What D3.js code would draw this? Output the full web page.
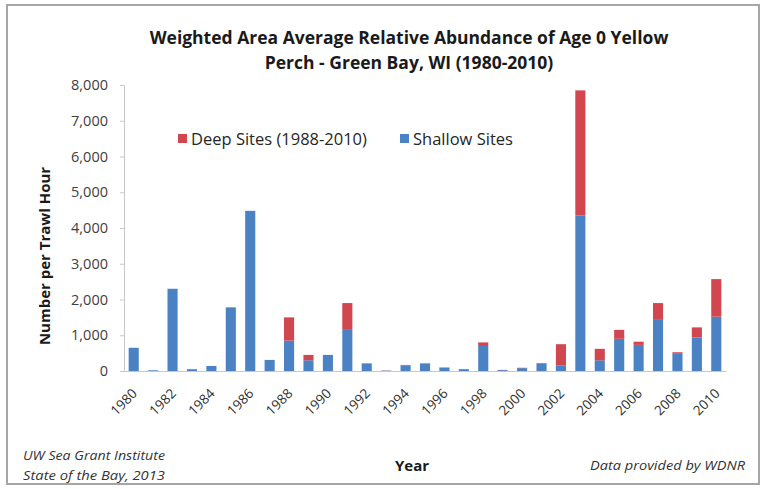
<!DOCTYPE html>
<html>
<head>
<meta charset="utf-8">
<script src="https://cdn.jsdelivr.net/npm/d3@7"></script>
<style>
  html, body { margin: 0; padding: 0; background: #fff; }
  svg { display: block; }
</style>
</head>
<body>
<script>
const years = d3.range(1980, 2011);
const shallowValues = [650, 20, 2300, 50, 140, 1780, 4480, 310, 850, 300, 450, 1150, 200, 10, 160, 200, 90, 50, 700, 25, 80, 200, 150, 4350, 300, 900, 730, 1430, 500, 940, 1520];
const deepValues    = [0, 0, 0, 0, 0, 0, 0, 0, 650, 150, 0, 750, 15, 5, 10, 15, 10, 5, 100, 5, 10, 20, 600, 3500, 320, 250, 90, 470, 25, 280, 1050];
const yTicks = [0, 1000, 2000, 3000, 4000, 5000, 6000, 7000, 8000];
const xTickYears = d3.range(1980, 2011, 2);
const seriesNames = ["Deep Sites (1988-2010)", "Shallow Sites"];
const titleLines = ["Weighted Area Average Relative Abundance of Age 0 Yellow", "Perch - Green Bay, WI (1980-2010)"];

const W = 766, H = 489;
const margin = {left: 124, right: 40, top: 85, bottom: 118};
const colors = {deep: "#d2464f", shallow: "#4a82c4"};

const svg = d3.select("body").append("svg").attr("width", W).attr("height", H);

// frame
svg.append("rect").attr("x", 7).attr("y", 5).attr("width", 752).attr("height", 479)
  .attr("fill", "#fff").attr("stroke", "#a6a6a6").attr("stroke-width", 2);

const x = d3.scaleBand().domain(years).range([margin.left, W - margin.right]).paddingInner(0.48).paddingOuter(0.24);
const y = d3.scaleLinear().domain([0, 8000]).range([H - margin.bottom, margin.top]);

const data = years.map((yr, i) => ({year: yr, shallow: shallowValues[i], deep: deepValues[i]}));
const stack = d3.stack().keys(["shallow", "deep"])(data);

const g = svg.append("g");
stack.forEach(layer => {
  g.append("g").attr("fill", colors[layer.key])
    .selectAll("rect").data(layer).join("rect")
    .attr("x", d => x(d.data.year))
    .attr("width", x.bandwidth())
    .attr("y", d => y(d[1]))
    .attr("height", d => Math.max(0, y(d[0]) - y(d[1])));
});

// y axis
const yAxis = d3.axisLeft(y).tickValues(yTicks).tickFormat(d3.format(",")).tickSize(4).tickPadding(12);
const ya = svg.append("g").attr("transform", `translate(${margin.left},0)`).call(yAxis);
ya.select(".domain").attr("stroke", "#c8c8c8");
ya.selectAll(".tick line").attr("stroke", "#c8c8c8");
ya.selectAll("text").attr("font-family", "Open Sans, sans-serif").attr("font-size", 14.5).attr("fill", "#404040");

// x axis
const xAxis = d3.axisBottom(x).tickValues(xTickYears).tickSize(0).tickPadding(0);
const xa = svg.append("g").attr("transform", `translate(0,${H - margin.bottom})`).call(xAxis);
xa.select(".domain").attr("stroke", "#c8c8c8");
xa.selectAll("text")
  .attr("font-family", "Open Sans, sans-serif").attr("font-size", 13.5).attr("fill", "#303030")
  .attr("text-anchor", "end")
  .attr("x", 0).attr("y", 0)
  .attr("dy", "0.35em")
  .attr("transform", "translate(1,20) rotate(-45)");

// title
svg.append("g").selectAll("text").data(titleLines).join("text")
  .attr("x", 409).attr("y", (d, i) => 44 + i * 25)
  .attr("text-anchor", "middle")
  .attr("font-family", "Open Sans, sans-serif").attr("font-weight", "bold").attr("font-size", 17.5)
  .attr("fill", "#1a1a1a").text(d => d);

// y title
svg.append("text").attr("transform", "translate(50,256) rotate(-90)")
  .attr("text-anchor", "middle")
  .attr("font-family", "Open Sans, sans-serif").attr("font-weight", "bold").attr("font-size", 15)
  .attr("fill", "#1a1a1a").text("Number per Trawl Hour");

// x title
svg.append("text").attr("x", 412).attr("y", 471).attr("text-anchor", "middle")
  .attr("font-family", "Open Sans, sans-serif").attr("font-weight", "bold").attr("font-size", 15)
  .attr("fill", "#1a1a1a").text("Year");

// legend
const legendItems = [{name: seriesNames[0], color: colors.deep, x: 178}, {name: seriesNames[1], color: colors.shallow, x: 400}];
const lg = svg.append("g");
legendItems.forEach(it => {
  lg.append("rect").attr("x", it.x).attr("y", 134).attr("width", 9).attr("height", 9).attr("fill", it.color);
  lg.append("text").attr("x", it.x + 13).attr("y", 139).attr("dy", "0.35em")
    .attr("font-family", "Open Sans, sans-serif").attr("font-size", 16.5).attr("fill", "#262626").text(it.name);
});

// footers
const foot = svg.append("g").attr("font-family", "Open Sans, sans-serif").attr("font-style", "italic").attr("font-size", 13).attr("fill", "#333");
foot.append("text").attr("x", 23).attr("y", 460).attr("textLength", 142).attr("lengthAdjust", "spacingAndGlyphs").text("UW Sea Grant Institute");
foot.append("text").attr("x", 23).attr("y", 480).attr("textLength", 142).attr("lengthAdjust", "spacingAndGlyphs").text("State of the Bay, 2013");
foot.append("text").attr("x", 745).attr("y", 470).attr("text-anchor", "end").attr("textLength", 155).attr("lengthAdjust", "spacingAndGlyphs").text("Data provided by WDNR");
</script>
</body>
</html>
